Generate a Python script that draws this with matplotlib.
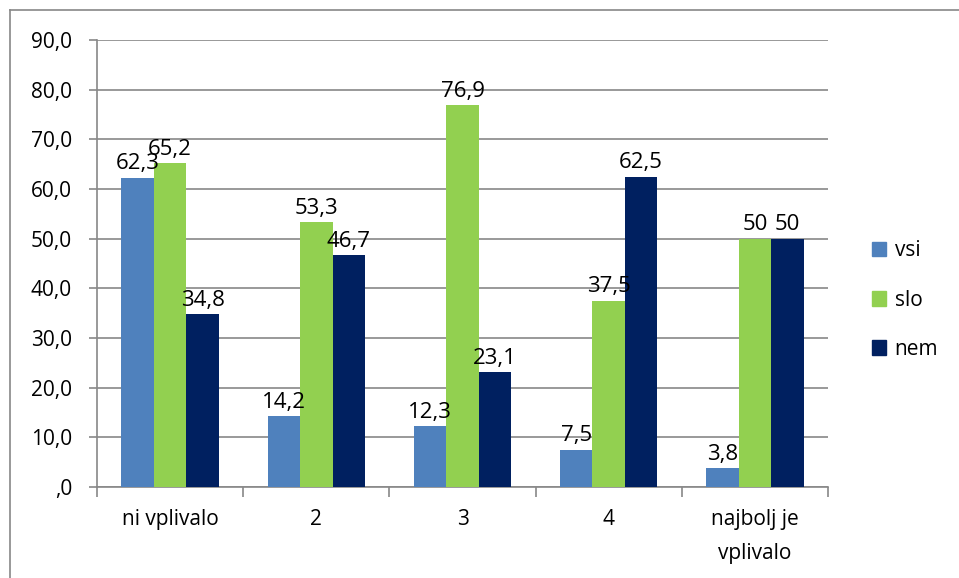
import matplotlib.pyplot as plt
import numpy as np
from matplotlib.lines import Line2D

categories = ['ni vplivalo', '2', '3', '4', 'najbolj je\nvplivalo']
series_names = ['vsi', 'slo', 'nem']
vsi = [62.3, 14.2, 12.3, 7.5, 3.8]
slo = [65.2, 53.3, 76.9, 37.5, 50]
nem = [34.8, 46.7, 23.1, 62.5, 50]
vsi_labels = ['62,3', '14,2', '12,3', '7,5', '3,8']
slo_labels = ['65,2', '53,3', '76,9', '37,5', '50']
nem_labels = ['34,8', '46,7', '23,1', '62,5', '50']
colors = ['#4F81BD', '#92D050', '#002060']
yticks = [0, 10, 20, 30, 40, 50, 60, 70, 80, 90]
ytick_labels = [',0', '10,0', '20,0', '30,0', '40,0', '50,0', '60,0', '70,0', '80,0', '90,0']

plt.rcParams['font.family'] = ['Open Sans', 'DejaVu Sans']
grid_color = '#888888'
fs = 15

fig = plt.figure(figsize=(9.59, 5.78), dpi=100)
ax = fig.add_axes([97 / 959, 1 - 487 / 578, (828 - 97) / 959, (487 - 40) / 578])

x = np.arange(len(categories))
width = 0.222
data = [vsi, slo, nem]
labels = [vsi_labels, slo_labels, nem_labels]
for i, (vals, labs) in enumerate(zip(data, labels)):
    pos = x + (i - 1) * width
    ax.bar(pos, vals, width, color=colors[i], label=series_names[i], zorder=3)
    for p, v, t in zip(pos, vals, labs):
        ax.annotate(t, (p, v), xytext=(0, 6), textcoords='offset points',
                    ha='center', va='baseline', fontsize=16, color='black', zorder=4)

ax.set_xlim(-0.5, len(categories) - 0.5)
ax.set_ylim(0, 90)
ax.set_yticks(yticks)
ax.set_yticklabels(ytick_labels, fontsize=fs)
ax.yaxis.grid(True, color=grid_color, linewidth=1.2, zorder=0)
ax.set_xticks(x)
ax.set_xticklabels(categories, fontsize=fs, linespacing=1.8)
ax.tick_params(axis='x', length=0, pad=16)
ax.tick_params(axis='y', length=6, width=1.2, color=grid_color, pad=12)
# category boundary ticks
ax.set_xticks(np.arange(-0.5, len(categories)), minor=True)
ax.tick_params(axis='x', which='minor', length=7, width=1.2, color=grid_color)

for s in ['top', 'right']:
    ax.spines[s].set_visible(False)
for s in ['left', 'bottom']:
    ax.spines[s].set_color(grid_color)
    ax.spines[s].set_linewidth(1.2)

handles = [plt.Rectangle((0, 0), 1, 1, color=c) for c in colors]
fig.legend(handles, series_names, loc='center left', bbox_to_anchor=(853 / 959, 1 - 300 / 578),
           frameon=False, fontsize=fs, handlelength=0.7, handleheight=0.7,
           handletextpad=0.4, labelspacing=1.35)

# outer chart frame
fig.add_artist(Line2D([9.5 / 959, 9.5 / 959], [0, 1 - 10 / 578], color=grid_color, linewidth=1.2))
fig.add_artist(Line2D([9.5 / 959, 1], [1 - 10 / 578, 1 - 10 / 578], color=grid_color, linewidth=1.2))

fig.savefig('out.png', dpi=100)
